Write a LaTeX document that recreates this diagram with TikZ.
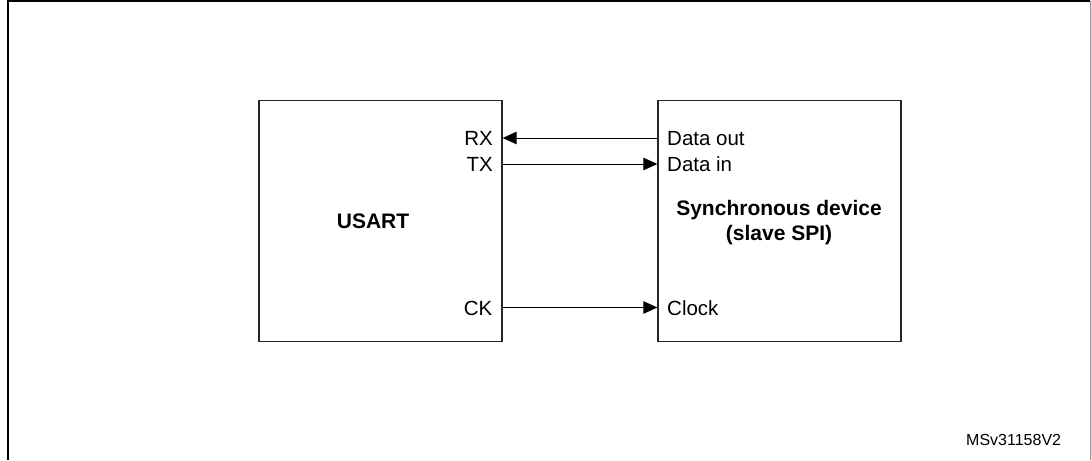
\documentclass[tikz,border=0pt]{standalone}
\usepackage{fontspec}
\setmainfont{Liberation Sans}
\usetikzlibrary{arrows.meta}
\tikzset{
  blockbox/.style={draw=black!85, line width=1.3pt, minimum width=#1, inner sep=0pt},
  pintext/.style={inner sep=0pt, font=\fontsize{20.5}{24}\selectfont},
  titletext/.style={inner sep=0pt, font=\fontsize{21}{24}\selectfont\bfseries, align=center},
  sig/.style={line width=1pt, -{Triangle[length=14pt,width=12.5pt]}},
  refid/.style={inner sep=0pt, font=\fontsize{16}{18}\selectfont}
}
\begin{document}
\begin{tikzpicture}[x=1pt,y=-1pt]
\useasboundingbox (0,0) rectangle (1091,460);
% outer frame
\draw[line width=2pt] (7.5,460) -- (7.5,1.5) -- (1090,1.5);
\draw[line width=0.8pt, black!40] (1090,1.5) -- (1090,460);
% blocks
\node[blockbox=243pt, minimum height=241pt] (usart) at (380.5,221) {};
\node[blockbox=243pt, minimum height=241pt] (dev) at (779.5,221) {};
% block titles
\node[titletext, anchor=base] (usartt) at (373,228) {USART};
\node[titletext, anchor=base] (devt1) at (779,215.5) {Synchronous device};
\node[titletext, anchor=base] (devt2) at (779,240) {(slave SPI)};
% pin labels
\node[pintext, anchor=base east] (rx) at (493,145.5) {RX};
\node[pintext, anchor=base east] (tx) at (493,171.5) {TX};
\node[pintext, anchor=base east] (ck) at (492.5,315) {CK};
\node[pintext, anchor=base west] (dout) at (667,145.5) {Data out};
\node[pintext, anchor=base west] (din) at (667,171.5) {Data in};
\node[pintext, anchor=base west] (clk) at (667,315) {Clock};
% pin points
\coordinate (pRX) at (usart.east |- 0,138);
\coordinate (pTX) at (usart.east |- 0,164);
\coordinate (pCK) at (usart.east |- 0,307.5);
\coordinate (pDout) at (dev.west |- 0,138);
\coordinate (pDin) at (dev.west |- 0,164);
\coordinate (pClk) at (dev.west |- 0,307.5);
% signals
\draw[sig] (pDout) -- (pRX);
\draw[sig] (pTX) -- (pDin);
\draw[sig] (pCK) -- (pClk);
% reference id
\node[refid, anchor=base west] (id) at (966,445.7) {MSv31158V2};
\end{tikzpicture}
\end{document}
